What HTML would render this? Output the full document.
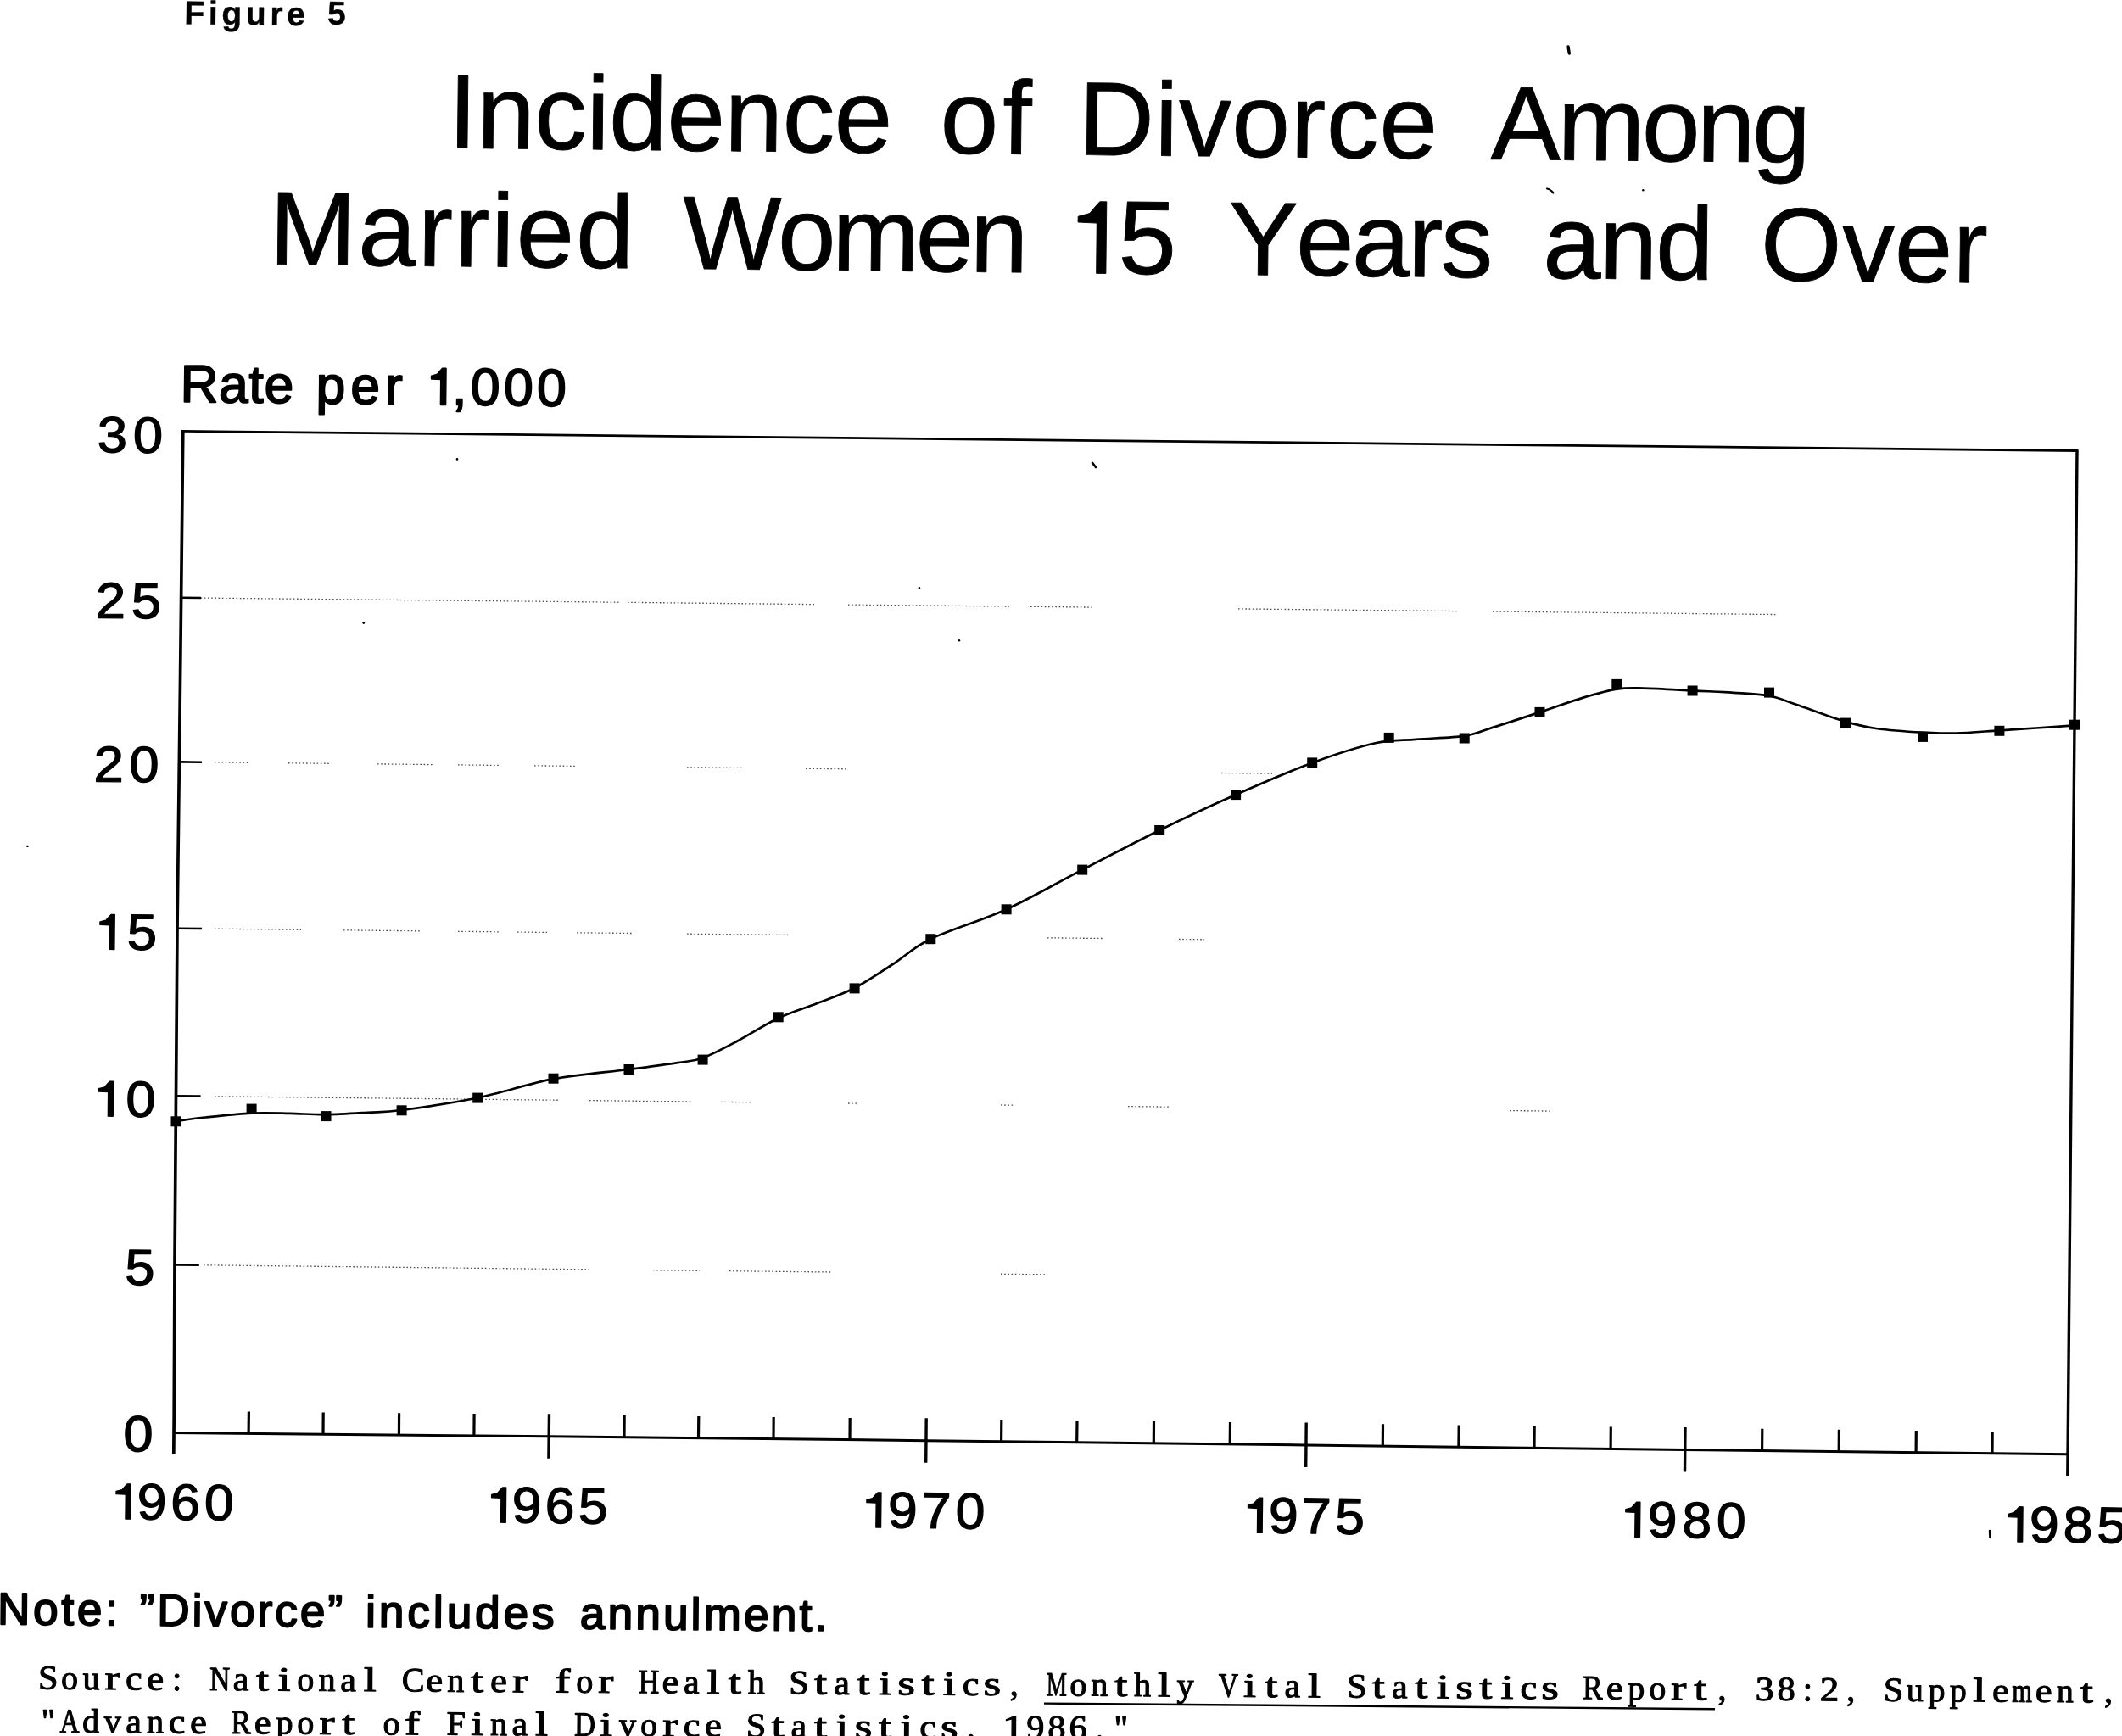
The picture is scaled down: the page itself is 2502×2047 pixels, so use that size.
<!DOCTYPE html>
<html><head><meta charset="utf-8"><title>Figure 5</title>
<style>html,body{margin:0;padding:0;background:#fff;overflow:hidden}svg{display:block;filter:grayscale(1)}text{font-kerning:none}</style>
</head><body>
<svg width="2502" height="2047" viewBox="0 0 2502 2047">
<rect width="2502" height="2047" fill="#fff"/>
<g fill="#000">
<g transform="translate(528.05,174.30) rotate(0.63)" stroke="#000" stroke-width="0.9" stroke-linejoin="round"><text x="0.00 33.73 101.82 162.99 189.84 257.94 326.04 394.14 455.30" y="0" font-family="Liberation Sans" font-size="123.5" font-weight="normal">Incidence</text></g>
<g transform="translate(1108.26,180.61) rotate(0.63)" stroke="#000" stroke-width="0.9" stroke-linejoin="round"><text x="0.00 73.59" y="0" font-family="Liberation Sans" font-size="123.5" font-weight="normal">of</text></g>
<g transform="translate(1271.32,182.46) rotate(0.63)" stroke="#000" stroke-width="0.9" stroke-linejoin="round"><text x="0.00 89.99 118.22 180.77 250.26 292.18 354.73" y="0" font-family="Liberation Sans" font-size="123.5" font-weight="normal">Divorce</text></g>
<g transform="translate(1757.51,187.70) rotate(0.63)" stroke="#000" stroke-width="0.9" stroke-linejoin="round"><text x="0.00 78.77 178.05 243.13 308.22" y="0" font-family="Liberation Sans" font-size="123.5" font-weight="normal">Among</text></g>
<g transform="translate(317.36,311.50) rotate(0.63)" stroke="#000" stroke-width="0.9" stroke-linejoin="round"><text x="0.00 104.63 175.20 218.32 261.45 290.94 361.51" y="0" font-family="Liberation Sans" font-size="123" font-weight="normal">Married</text></g>
<g transform="translate(804.71,316.71) rotate(0.63)" stroke="#000" stroke-width="0.9" stroke-linejoin="round"><text x="0.00 111.98 176.28 274.63 338.92" y="0" font-family="Liberation Sans" font-size="123" font-weight="normal">Women</text></g>
<g transform="translate(1241.48,321.78) rotate(0.63)" stroke="#000" stroke-width="0.9" stroke-linejoin="round"><text x="76.83" y="0" font-family="Liberation Sans" font-size="123" font-weight="normal">5</text><path d="M62.40,-84.62 L62.40,0.00 L51.15,0.00 L51.15,-59.24 L28.97,-60.08 L28.97,-66.85 L42.51,-70.66 L50.55,-80.39 L54.36,-84.62Z"/></g>
<g transform="translate(1448.05,323.74) rotate(0.63)" stroke="#000" stroke-width="0.9" stroke-linejoin="round"><text x="0.00 79.70 145.76 211.83 250.45" y="0" font-family="Liberation Sans" font-size="123" font-weight="normal">Years</text></g>
<g transform="translate(1818.92,327.81) rotate(0.63)" stroke="#000" stroke-width="0.9" stroke-linejoin="round"><text x="0.00 66.47 132.95" y="0" font-family="Liberation Sans" font-size="123" font-weight="normal">and</text></g>
<g transform="translate(2075.62,330.62) rotate(0.63)" stroke="#000" stroke-width="0.9" stroke-linejoin="round"><text x="0.00 96.05 157.93 226.71" y="0" font-family="Liberation Sans" font-size="123" font-weight="normal">Over</text></g>
<g transform="translate(217.29,28.50) rotate(0.6)" stroke="#000" stroke-width="0.4" stroke-linejoin="round"><text x="0.00 28.48 43.97 72.44 100.92 120.75" y="0" font-family="Liberation Sans" font-size="39" font-weight="bold">Figure</text></g>
<g transform="translate(386.10,28.70) rotate(0.6)" stroke="#000" stroke-width="0.4" stroke-linejoin="round"><text x="0.00" y="0" font-family="Liberation Sans" font-size="39" font-weight="bold">5</text></g>
<g transform="translate(212.41,473.70) rotate(0.63)" stroke="#000" stroke-width="2.0" stroke-linejoin="round"><text x="0.00 45.63 80.97 99.06" y="0" font-family="Liberation Sans" font-size="62" font-weight="normal">Rate</text></g>
<g transform="translate(372.50,475.45) rotate(0.63)" stroke="#000" stroke-width="2.0" stroke-linejoin="round"><text x="0.00 40.69 81.38" y="0" font-family="Liberation Sans" font-size="62" font-weight="normal">per</text></g>
<g transform="translate(493.89,476.90) rotate(0.63)" stroke="#000" stroke-width="2.0" stroke-linejoin="round"><text x="39.10 60.94 100.05 139.15" y="0" font-family="Liberation Sans" font-size="62" font-weight="normal">,000</text><path d="M31.45,-42.66 L31.45,0.00 L25.78,0.00 L25.78,-29.86 L14.61,-30.29 L14.61,-33.70 L21.43,-35.62 L25.48,-40.52 L27.40,-42.66Z"/></g>
<g transform="translate(114.74,533.10) rotate(0.6) scale(1.0600,1)" stroke="#000" stroke-width="1.4" stroke-linejoin="round"><text x="0.00 39.72" y="0" font-family="Liberation Sans" font-size="59.5" font-weight="normal">30</text></g>
<g transform="translate(112.87,728.40) rotate(0.6) scale(1.0600,1)" stroke="#000" stroke-width="1.4" stroke-linejoin="round"><text x="0.00 39.49" y="0" font-family="Liberation Sans" font-size="59.5" font-weight="normal">25</text></g>
<g transform="translate(110.47,921.40) rotate(0.6) scale(1.0600,1)" stroke="#000" stroke-width="1.4" stroke-linejoin="round"><text x="0.00 39.32" y="0" font-family="Liberation Sans" font-size="59.5" font-weight="normal">20</text></g>
<g transform="translate(102.78,1119.10) rotate(0.6) scale(1.0600,1)" stroke="#000" stroke-width="1.4" stroke-linejoin="round"><text x="44.38" y="0" font-family="Liberation Sans" font-size="59.5" font-weight="normal">5</text><path d="M30.19,-40.94 L30.19,0.00 L24.74,0.00 L24.74,-28.65 L14.02,-29.06 L14.02,-32.34 L20.57,-34.18 L24.45,-38.89 L26.30,-40.94Z"/></g>
<g transform="translate(101.18,1315.90) rotate(0.6) scale(1.0600,1)" stroke="#000" stroke-width="1.4" stroke-linejoin="round"><text x="44.30" y="0" font-family="Liberation Sans" font-size="59.5" font-weight="normal">0</text><path d="M30.19,-40.94 L30.19,0.00 L24.74,0.00 L24.74,-28.65 L14.02,-29.06 L14.02,-32.34 L20.57,-34.18 L24.45,-38.89 L26.30,-40.94Z"/></g>
<g transform="translate(147.22,1514.80) rotate(0.6) scale(1.0600,1)" stroke="#000" stroke-width="1.4" stroke-linejoin="round"><text x="0.00" y="0" font-family="Liberation Sans" font-size="59.5" font-weight="normal">5</text></g>
<g transform="translate(145.28,1711.00) rotate(0.6) scale(1.0600,1)" stroke="#000" stroke-width="1.4" stroke-linejoin="round"><text x="0.00" y="0" font-family="Liberation Sans" font-size="59.5" font-weight="normal">0</text></g>
<g transform="translate(121.98,1790.80) rotate(0.65) scale(1.0400,1)" stroke="#000" stroke-width="1.3" stroke-linejoin="round"><text x="38.04 76.08 114.12" y="0" font-family="Liberation Sans" font-size="60" font-weight="normal">960</text><path d="M30.44,-41.28 L30.44,0.00 L24.95,0.00 L24.95,-28.90 L14.13,-29.31 L14.13,-32.61 L20.74,-34.47 L24.66,-39.22 L26.52,-41.28Z"/></g>
<g transform="translate(564.58,1794.90) rotate(0.65) scale(1.0400,1)" stroke="#000" stroke-width="1.3" stroke-linejoin="round"><text x="37.52 75.04 112.56" y="0" font-family="Liberation Sans" font-size="60" font-weight="normal">965</text><path d="M30.44,-41.28 L30.44,0.00 L24.95,0.00 L24.95,-28.90 L14.13,-29.31 L14.13,-32.61 L20.74,-34.47 L24.66,-39.22 L26.52,-41.28Z"/></g>
<g transform="translate(1006.88,1800.80) rotate(0.65) scale(1.0400,1)" stroke="#000" stroke-width="1.3" stroke-linejoin="round"><text x="38.33 76.65 114.98" y="0" font-family="Liberation Sans" font-size="60" font-weight="normal">970</text><path d="M30.44,-41.28 L30.44,0.00 L24.95,0.00 L24.95,-28.90 L14.13,-29.31 L14.13,-32.61 L20.74,-34.47 L24.66,-39.22 L26.52,-41.28Z"/></g>
<g transform="translate(1456.48,1807.10) rotate(0.65) scale(1.0400,1)" stroke="#000" stroke-width="1.3" stroke-linejoin="round"><text x="37.68 75.36 113.04" y="0" font-family="Liberation Sans" font-size="60" font-weight="normal">975</text><path d="M30.44,-41.28 L30.44,0.00 L24.95,0.00 L24.95,-28.90 L14.13,-29.31 L14.13,-32.61 L20.74,-34.47 L24.66,-39.22 L26.52,-41.28Z"/></g>
<g transform="translate(1901.78,1812.00) rotate(0.65) scale(1.0400,1)" stroke="#000" stroke-width="1.3" stroke-linejoin="round"><text x="39.13 78.26 117.39" y="0" font-family="Liberation Sans" font-size="60" font-weight="normal">980</text><path d="M30.44,-41.28 L30.44,0.00 L24.95,0.00 L24.95,-28.90 L14.13,-29.31 L14.13,-32.61 L20.74,-34.47 L24.66,-39.22 L26.52,-41.28Z"/></g>
<g transform="translate(2352.98,1817.70) rotate(0.65) scale(1.0400,1)" stroke="#000" stroke-width="1.3" stroke-linejoin="round"><text x="38.23 76.45 114.68" y="0" font-family="Liberation Sans" font-size="60" font-weight="normal">985</text><path d="M30.44,-41.28 L30.44,0.00 L24.95,0.00 L24.95,-28.90 L14.13,-29.31 L14.13,-32.61 L20.74,-34.47 L24.66,-39.22 L26.52,-41.28Z"/></g>
<g transform="translate(-3.05,1915.20) rotate(0.45)" stroke="#000" stroke-width="2.0" stroke-linejoin="round"><text x="0.00 42.03 75.26 93.73 126.96" y="0" font-family="Liberation Sans" font-size="53" font-weight="normal">Note:</text></g>
<g transform="translate(164.46,1916.51) rotate(0.45)" stroke="#000" stroke-width="2.0" stroke-linejoin="round"><text x="0.00 20.72 62.06 76.90 106.47 139.01 159.72 189.29 221.83" y="0" font-family="Liberation Sans" font-size="53" font-weight="normal">”Divorce”</text></g>
<g transform="translate(431.05,1918.63) rotate(0.45)" stroke="#000" stroke-width="2.0" stroke-linejoin="round"><text x="0.00 15.79 49.28 79.80 95.59 129.08 162.57 196.06" y="0" font-family="Liberation Sans" font-size="53" font-weight="normal">includes</text></g>
<g transform="translate(683.75,1920.61) rotate(0.45)" stroke="#000" stroke-width="2.0" stroke-linejoin="round"><text x="0.00 32.72 65.43 98.15 130.86 145.88 193.27 225.98 258.70 276.67" y="0" font-family="Liberation Sans" font-size="53" font-weight="normal">annulment.</text></g>
</g>
<g fill="none" stroke="#000" stroke-linecap="butt">
<path d="M215.8,507.0 L212.6,795.0 L209.0,1095.0 L206.0,1490.0 L205.2,1670.0 L204.8,1714.5" stroke-width="3.7" stroke-linejoin="round"/>
<path d="M214.5,508.4 L2450.5,531.5" stroke-width="2.8"/>
<path d="M2449.0,531.5 L2437.8,1740.4" stroke-width="3.4"/>
<path d="M205.2,1689.6 L647.2,1693.7 L1092.0,1698.7 L1540.0,1703.9 L1986.8,1709.5 L2437.5,1714.8" stroke-width="3"/>
<path d="M293.4,1664.6 L293.1,1690.4" stroke-width="3.2"/>
<path d="M381.2,1665.4 L381.0,1691.2" stroke-width="3.2"/>
<path d="M470.6,1666.3 L470.4,1692.1" stroke-width="3.2"/>
<path d="M559.1,1667.1 L558.9,1692.9" stroke-width="3.2"/>
<path d="M647.5,1667.3 L646.9,1719.7" stroke-width="3.4"/>
<path d="M736.2,1668.9 L736.0,1694.7" stroke-width="3.2"/>
<path d="M823.8,1669.9 L823.5,1695.7" stroke-width="3.2"/>
<path d="M912.2,1670.9 L912.0,1696.7" stroke-width="3.2"/>
<path d="M1002.2,1671.9 L1002.0,1697.7" stroke-width="3.2"/>
<path d="M1092.2,1672.3 L1091.7,1724.7" stroke-width="3.4"/>
<path d="M1180.8,1673.9 L1180.6,1699.7" stroke-width="3.2"/>
<path d="M1270.0,1675.0 L1269.7,1700.8" stroke-width="3.2"/>
<path d="M1360.5,1676.0 L1360.3,1701.8" stroke-width="3.2"/>
<path d="M1450.5,1677.1 L1450.2,1702.9" stroke-width="3.2"/>
<path d="M1540.2,1677.5 L1539.7,1729.9" stroke-width="3.4"/>
<path d="M1630.5,1679.2 L1630.3,1705.0" stroke-width="3.2"/>
<path d="M1720.2,1680.4 L1719.9,1706.2" stroke-width="3.2"/>
<path d="M1809.2,1681.5 L1809.0,1707.3" stroke-width="3.2"/>
<path d="M1899.3,1682.6 L1899.1,1708.4" stroke-width="3.2"/>
<path d="M1987.0,1683.1 L1986.5,1735.5" stroke-width="3.4"/>
<path d="M2077.8,1684.8 L2077.6,1710.6" stroke-width="3.2"/>
<path d="M2168.4,1685.8 L2168.2,1711.6" stroke-width="3.2"/>
<path d="M2259.3,1686.9 L2259.1,1712.7" stroke-width="3.2"/>
<path d="M2349.2,1688.0 L2349.0,1713.8" stroke-width="3.2"/>
<path d="M213.6,704.8 L237.0,705.05" stroke-width="2.6"/>
<path d="M224,704.91 L730,710.22 M740,710.33 L960,712.64 M1000,713.06 L1190,715.05 M1215,715.32 L1290,716.10 M1460,717.89 L1720,720.62 M1760,721.04 L2095,724.56" stroke-width="1.3" stroke-dasharray="1.6 2.6" opacity="0.7"/>
<path d="M211.4,898.4 L238.0,898.68" stroke-width="2.6"/>
<path d="M253,898.84 L295,899.29 M340,899.77 L390,900.30 M445,900.89 L510,901.58 M540,901.90 L590,902.44 M630,902.86 L680,903.39 M810,904.78 L875,905.47 M950,906.27 L1000,906.80 M1440,911.49 L1500,912.13" stroke-width="1.3" stroke-dasharray="1.6 2.6" opacity="0.7"/>
<path d="M209.0,1094.7 L238.0,1095.01" stroke-width="2.6"/>
<path d="M253,1095.18 L355,1096.28 M405,1096.82 L495,1097.79 M540,1098.28 L590,1098.82 M610,1099.04 L645,1099.41 M680,1099.79 L745,1100.50 M810,1101.20 L930,1102.50 M1235,1105.80 L1300,1106.50 M1390,1107.47 L1420,1107.80" stroke-width="1.3" stroke-dasharray="1.6 2.6" opacity="0.7"/>
<path d="M207.5,1292.3 L236.6,1292.62" stroke-width="2.6"/>
<path d="M253,1292.80 L660,1297.26 M695,1297.65 L815,1298.97 M850,1299.35 L885,1299.73 M1000,1301.00 L1010,1301.11 M1180,1302.97 L1195,1303.13 M1330,1304.62 L1380,1305.16 M1780,1309.55 L1830,1310.10" stroke-width="1.3" stroke-dasharray="1.6 2.6" opacity="0.7"/>
<path d="M206.0,1491.4 L234.8,1491.72" stroke-width="2.6"/>
<path d="M240,1491.78 L695,1496.84 M770,1497.68 L825,1498.29 M860,1498.68 L980,1500.02 M1180,1502.24 L1235,1502.85" stroke-width="1.3" stroke-dasharray="1.6 2.6" opacity="0.7"/>
<path d="M207.8,1321.9 C213.6,1321.2 227.7,1319.0 242.4,1317.5 C257.1,1316.0 279.6,1313.4 296.1,1312.6 C312.6,1311.8 326.8,1312.5 341.4,1312.8 C356.0,1313.1 368.7,1314.4 384,1314.2 C399.3,1314.0 418.4,1312.7 433.3,1311.8 C448.2,1310.9 452.0,1311.9 473.6,1309 C495.2,1306.1 533.4,1300.6 563.2,1294.5 C593.0,1288.4 622.9,1277.8 652.6,1272.2 C682.3,1266.6 717.1,1264.2 741.5,1261 C765.9,1257.8 784.5,1255.5 799,1253.2 C813.5,1250.9 816.8,1251.7 828.6,1247.4 C840.4,1243.1 854.8,1235.3 869.6,1227.5 C884.5,1219.7 902.1,1207.9 917.7,1200.5 C933.3,1193.1 948.0,1189.1 963,1183.2 C978.0,1177.3 992.5,1172.8 1007.6,1165 C1022.7,1157.2 1038.5,1146.1 1053.4,1136.5 C1068.4,1126.9 1075.1,1117.9 1097.3,1107.2 C1119.5,1096.5 1156.8,1085.9 1186.6,1072.3 C1216.4,1058.7 1246.1,1041.1 1276.2,1025.6 C1306.3,1010.0 1337.1,993.8 1367.2,979 C1397.3,964.2 1427.1,950.4 1457.1,937.1 C1487.1,923.9 1519.9,909.6 1547.3,899.5 C1574.7,889.4 1601.2,880.9 1621.6,876.3 C1642.0,871.7 1652.2,873.3 1669.6,871.9 C1687.0,870.5 1712.0,869.8 1726.2,867.8 C1740.4,865.8 1739.6,864.4 1754.5,859.7 C1769.4,855.1 1796.7,846.1 1815.5,839.9 C1834.3,833.7 1852.4,826.9 1867.5,822.4 C1882.6,817.9 1894.5,814.4 1906.3,812.6 C1918.0,810.8 1923.0,811.3 1938,811.6 C1953.0,811.9 1978.3,813.5 1996,814.4 C2013.7,815.3 2029.0,815.8 2044,816.8 C2059.0,817.8 2073.7,818.2 2086,820.5 C2098.3,822.8 2102.8,825.6 2117.8,830.7 C2132.8,835.8 2160.3,846.2 2176,850.9 C2191.7,855.6 2196.8,856.9 2212,859 C2227.2,861.1 2251.3,862.8 2267,863.7 C2282.7,864.6 2291.2,865.0 2306.3,864.6 C2321.4,864.2 2341.7,862.3 2357.4,861.3 C2373.1,860.3 2385.8,859.5 2400.6,858.5 C2415.4,857.5 2438.4,855.9 2446,855.4" stroke-width="2.7" stroke-linejoin="round"/>
</g>
<g fill="#000"><rect x="201.5" y="1316.3" width="12" height="12"/><rect x="290.6" y="1301.6" width="12" height="12"/><rect x="378.5" y="1310.1" width="12" height="12"/><rect x="467.6" y="1303.3" width="12" height="12"/><rect x="557.2" y="1288.6" width="12" height="12"/><rect x="646.5" y="1265.7" width="12" height="12"/><rect x="735.5" y="1255.0" width="12" height="12"/><rect x="822.6" y="1243.6" width="12" height="12"/><rect x="911.7" y="1193.3" width="12" height="12"/><rect x="1001.6" y="1159.4" width="12" height="12"/><rect x="1091.3" y="1101.2" width="12" height="12"/><rect x="1180.6" y="1066.3" width="12" height="12"/><rect x="1270.2" y="1019.6" width="12" height="12"/><rect x="1361.2" y="973.0" width="12" height="12"/><rect x="1451.1" y="931.1" width="12" height="12"/><rect x="1541.2" y="893.4" width="12" height="12"/><rect x="1631.7" y="863.9" width="12" height="12"/><rect x="1720.7" y="864.5" width="12" height="12"/><rect x="1809.5" y="833.9" width="12" height="12"/><rect x="1900.3" y="800.9" width="12" height="12"/><rect x="1989.6" y="808.5" width="12" height="12"/><rect x="2080.0" y="810.6" width="12" height="12"/><rect x="2170.0" y="846.6" width="12" height="12"/><rect x="2261.0" y="862.9" width="12" height="12"/><rect x="2351.4" y="855.8" width="12" height="12"/><rect x="2440.0" y="848.7" width="12" height="12"/></g>
<g fill="#000" font-family="Liberation Serif" font-size="40.0">
<g transform="translate(44.10,1991.60) rotate(0.37)" stroke="#000" stroke-width="1.1" stroke-linejoin="round"><text transform="translate(12.7,0) scale(1.053,1)" x="-11.22">S</text><text transform="translate(88.6,0) scale(1.350,1)" x="-6.88">r</text><text transform="translate(113.9,0) scale(1.100,1)" x="-9.02">c</text><text transform="translate(139.2,0) scale(1.115,1)" x="-8.96">e</text><text transform="translate(215.1,0) scale(0.839,1)" x="-14.56">N</text><text transform="translate(240.4,0) scale(1.044,1)" x="-9.31">a</text><text transform="translate(265.6,0) scale(1.350,1)" x="-5.63">t</text><text transform="translate(290.9,0) scale(1.350,1)" x="-5.60">i</text><text transform="translate(366.8,0) scale(1.044,1)" x="-9.31">a</text><text transform="translate(392.1,0) scale(1.350,1)" x="-5.56">l</text><text transform="translate(468.1,0) scale(1.115,1)" x="-8.96">e</text><text transform="translate(518.6,0) scale(1.350,1)" x="-5.63">t</text><text transform="translate(544.0,0) scale(1.115,1)" x="-8.96">e</text><text transform="translate(569.2,0) scale(1.350,1)" x="-6.88">r</text><text transform="translate(619.9,0) scale(1.350,1)" x="-7.28">f</text><text transform="translate(670.5,0) scale(1.350,1)" x="-6.88">r</text><text transform="translate(721.0,0) scale(0.847,1)" x="-14.43">H</text><text transform="translate(746.4,0) scale(1.115,1)" x="-8.96">e</text><text transform="translate(771.6,0) scale(1.044,1)" x="-9.31">a</text><text transform="translate(797.0,0) scale(1.350,1)" x="-5.56">l</text><text transform="translate(822.2,0) scale(1.350,1)" x="-5.63">t</text><text transform="translate(898.1,0) scale(1.053,1)" x="-11.22">S</text><text transform="translate(923.5,0) scale(1.350,1)" x="-5.63">t</text><text transform="translate(948.8,0) scale(1.044,1)" x="-9.31">a</text><text transform="translate(974.0,0) scale(1.350,1)" x="-5.63">t</text><text transform="translate(999.4,0) scale(1.350,1)" x="-5.60">i</text><text transform="translate(1024.7,0) scale(1.322,1)" x="-7.88">s</text><text transform="translate(1050.0,0) scale(1.350,1)" x="-5.63">t</text><text transform="translate(1075.3,0) scale(1.350,1)" x="-5.60">i</text><text transform="translate(1100.6,0) scale(1.100,1)" x="-9.02">c</text><text transform="translate(1125.9,0) scale(1.322,1)" x="-7.88">s</text><text transform="translate(1201.8,0) scale(0.677,1)" x="-17.77">M</text><text transform="translate(1277.7,0) scale(1.350,1)" x="-5.63">t</text><text transform="translate(1328.3,0) scale(1.350,1)" x="-5.56">l</text><text transform="translate(1404.2,0) scale(0.804,1)" x="-14.44">V</text><text transform="translate(1429.5,0) scale(1.350,1)" x="-5.60">i</text><text transform="translate(1454.8,0) scale(1.350,1)" x="-5.63">t</text><text transform="translate(1480.1,0) scale(1.044,1)" x="-9.31">a</text><text transform="translate(1505.4,0) scale(1.350,1)" x="-5.56">l</text><text transform="translate(1556.0,0) scale(1.053,1)" x="-11.22">S</text><text transform="translate(1581.3,0) scale(1.350,1)" x="-5.63">t</text><text transform="translate(1606.6,0) scale(1.044,1)" x="-9.31">a</text><text transform="translate(1631.9,0) scale(1.350,1)" x="-5.63">t</text><text transform="translate(1657.2,0) scale(1.350,1)" x="-5.60">i</text><text transform="translate(1682.5,0) scale(1.322,1)" x="-7.88">s</text><text transform="translate(1707.8,0) scale(1.350,1)" x="-5.63">t</text><text transform="translate(1733.1,0) scale(1.350,1)" x="-5.60">i</text><text transform="translate(1758.4,0) scale(1.100,1)" x="-9.02">c</text><text transform="translate(1783.7,0) scale(1.322,1)" x="-7.88">s</text><text transform="translate(1834.3,0) scale(0.883,1)" x="-13.89">R</text><text transform="translate(1859.6,0) scale(1.115,1)" x="-8.96">e</text><text transform="translate(1935.5,0) scale(1.350,1)" x="-6.88">r</text><text transform="translate(1960.8,0) scale(1.350,1)" x="-5.63">t</text><text transform="translate(2036.7,0) scale(1.089,1)" x="-10.18">3</text><text transform="translate(2062.0,0) scale(1.062,1)" x="-10.00">8</text><text transform="translate(2112.6,0) scale(1.123,1)" x="-9.78">2</text><text transform="translate(2188.5,0) scale(1.053,1)" x="-11.22">S</text><text transform="translate(2289.7,0) scale(1.350,1)" x="-5.56">l</text><text transform="translate(2315.0,0) scale(1.115,1)" x="-8.96">e</text><text transform="translate(2340.2,0) scale(0.759,1)" x="-15.66">m</text><text transform="translate(2365.6,0) scale(1.115,1)" x="-8.96">e</text><text transform="translate(2416.2,0) scale(1.350,1)" x="-5.63">t</text><text x="28.0 53.3 158.9 306.2 331.4 429.7 483.2 635.1 837.6 1146.6 1217.1 1242.2 1293.0 1343.4 1875.3 1900.2 1981.5 2081.7 2133.3 2203.8 2229.5 2254.8 2380.7 2436.9">ou:onCnoh,onhypo,:,uppn,</text></g>
<g transform="translate(44.10,2042.50) rotate(0.37)" stroke="#000" stroke-width="1.1" stroke-linejoin="round"><text transform="translate(38.0,0) scale(0.798,1)" x="-14.49">A</text><text transform="translate(113.9,0) scale(1.044,1)" x="-9.31">a</text><text transform="translate(164.5,0) scale(1.100,1)" x="-9.02">c</text><text transform="translate(189.8,0) scale(1.115,1)" x="-8.96">e</text><text transform="translate(240.4,0) scale(0.883,1)" x="-13.89">R</text><text transform="translate(265.6,0) scale(1.115,1)" x="-8.96">e</text><text transform="translate(341.6,0) scale(1.350,1)" x="-6.88">r</text><text transform="translate(366.8,0) scale(1.350,1)" x="-5.63">t</text><text transform="translate(442.8,0) scale(1.350,1)" x="-7.28">f</text><text transform="translate(518.6,0) scale(1.350,1)" x="-5.60">i</text><text transform="translate(569.2,0) scale(1.044,1)" x="-9.31">a</text><text transform="translate(594.5,0) scale(1.350,1)" x="-5.56">l</text><text transform="translate(645.1,0) scale(0.861,1)" x="-14.22">D</text><text transform="translate(670.5,0) scale(1.350,1)" x="-5.60">i</text><text transform="translate(746.4,0) scale(1.350,1)" x="-6.88">r</text><text transform="translate(771.6,0) scale(1.100,1)" x="-9.02">c</text><text transform="translate(797.0,0) scale(1.115,1)" x="-8.96">e</text><text transform="translate(847.5,0) scale(1.053,1)" x="-11.22">S</text><text transform="translate(872.9,0) scale(1.350,1)" x="-5.63">t</text><text transform="translate(898.1,0) scale(1.044,1)" x="-9.31">a</text><text transform="translate(923.5,0) scale(1.350,1)" x="-5.63">t</text><text transform="translate(948.8,0) scale(1.350,1)" x="-5.60">i</text><text transform="translate(974.0,0) scale(1.322,1)" x="-7.88">s</text><text transform="translate(999.4,0) scale(1.350,1)" x="-5.63">t</text><text transform="translate(1024.7,0) scale(1.350,1)" x="-5.60">i</text><text transform="translate(1050.0,0) scale(1.100,1)" x="-9.02">c</text><text transform="translate(1075.3,0) scale(1.322,1)" x="-7.88">s</text><text transform="translate(1151.2,0) scale(1.278,1)" x="-10.56">1</text><text transform="translate(1176.5,0) scale(1.054,1)" x="-9.82">9</text><text transform="translate(1201.8,0) scale(1.062,1)" x="-10.00">8</text><text transform="translate(1227.1,0) scale(1.053,1)" x="-10.26">6</text><text x="4.5 52.8 78.6 129.0 281.4 306.2 407.4 482.4 533.8 685.8 711.0 1096.0 1247.4 1269.5">"dvnpooFnvo,."</text></g>
</g>
<path d="M1231,2008.6 L2022,2015.2" stroke="#000" stroke-width="2.4" fill="none"/>
<g fill="#000" stroke="#000" stroke-linecap="round">
<path d="M1288,545.8 L1292,551" stroke-width="2.6"/>
<path d="M1849,55 L1850.3,63" stroke-width="3.4"/>
<path d="M1824,222.5 Q1828,223 1831.5,227.5" stroke-width="2.2" fill="none"/>
<path d="M2346,1805 L2346.4,1813" stroke-width="2.4"/>
<circle cx="1937.3" cy="224.2" r="1.2" stroke="none"/>
<circle cx="539" cy="541.4" r="1.3" stroke="none"/>
<circle cx="428.8" cy="734.6" r="1.4" stroke="none"/>
<circle cx="1083.9" cy="693.4" r="1.3" stroke="none"/>
<circle cx="1131" cy="755.2" r="1.2" stroke="none"/>
<circle cx="32.4" cy="997.9" r="1.2" stroke="none"/>
</g>
</svg></body></html>
